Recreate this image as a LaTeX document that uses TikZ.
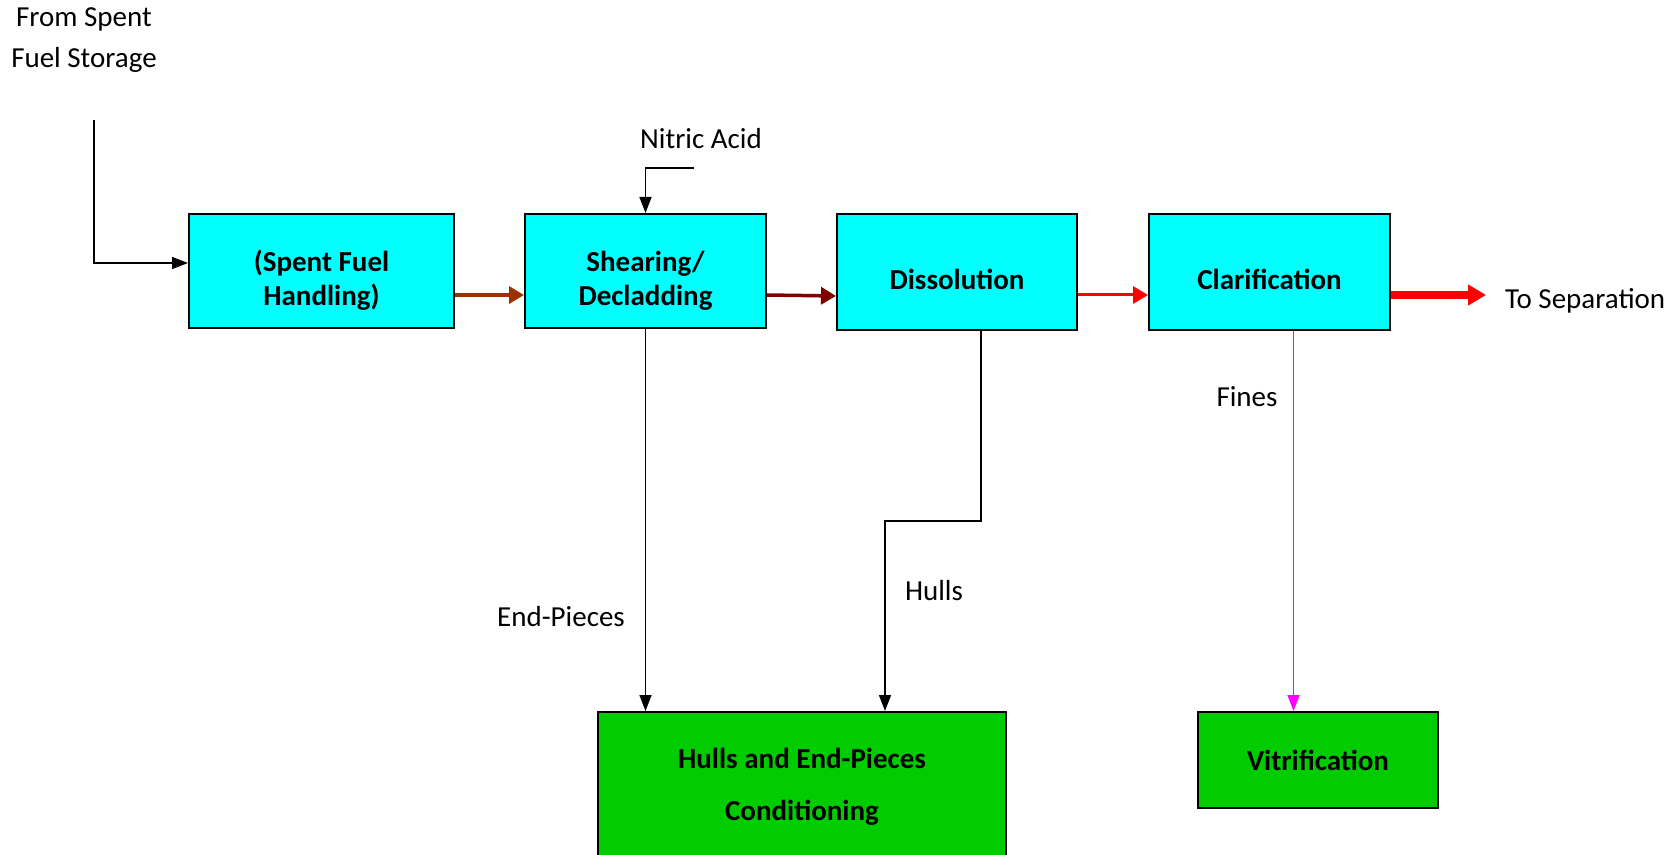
\documentclass[tikz,border=0pt]{standalone}
\usepackage{fontspec}
\setmainfont{Carlito}
\usetikzlibrary{arrows.meta}
\definecolor{boxcyan}{HTML}{00FFFF}
\definecolor{boxgreen}{HTML}{00CC00}
\definecolor{feedbrown}{HTML}{993300}
\definecolor{feeddark}{HTML}{800000}
\definecolor{finemag}{HTML}{FF00FF}
\newcommand{\stagetext}[1]{\raisebox{0pt}[\dimexpr\height+10.5pt\relax][\depth]{\begin{tabular}{@{}c@{}}#1\end{tabular}}}
\tikzset{
  stage/.style={draw=black, line width=1pt, fill=boxcyan, align=center,
    font=\fontsize{14.5}{17}\selectfont\bfseries},
  waste/.style={draw=black, line width=1pt, fill=boxgreen, align=center,
    font=\fontsize{14.5}{26}\selectfont\bfseries},
  lbl/.style={align=center, font=\fontsize{14.5}{20.3}\selectfont},
  flow/.style={line width=0.75pt, -{Triangle[length=8pt,width=6pt]}},
  feed/.style={line width=1.75pt, -{Triangle[length=7.5pt,width=8.5pt]}}
}
\begin{document}
\begin{tikzpicture}[x=0.5pt,y=-0.5pt]
\useasboundingbox (0,0) rectangle (1676,855);
% process boxes
\node[stage, minimum width=132.5pt, minimum height=57pt] (hand) at (321.5,271) {\stagetext{(Spent Fuel\\Handling)}};
\node[stage, minimum width=120.5pt, minimum height=57pt] (shear) at (645.5,271) {\stagetext{Shearing/\\Decladding}};
\node[stage, minimum width=120pt, minimum height=58pt] (diss) at (957,272) {\stagetext{Dissolution}};
\node[stage, minimum width=120.5pt, minimum height=58pt] (clar) at (1269.5,272) {\stagetext{Clarification}};
% waste boxes
\node[waste, minimum width=204pt, minimum height=75pt] (cond) at (802,787) {Hulls and End-Pieces\\Conditioning};
\node[waste, minimum width=120pt, minimum height=48pt] (vitr) at (1318,760) {Vitrification};
% labels
\node[lbl] (fromlbl) at (84,40) {From Spent\\Fuel Storage};
\node[lbl] (acidlbl) at (701,139) {Nitric Acid};
\node[lbl, anchor=west] (seplbl) at (1498,301) {To Separation};
\node[lbl] (endlbl) at (561,617) {End-Pieces};
\node[lbl] (hullbl) at (934,591) {Hulls};
\node[lbl] (finelbl) at (1247,397) {Fines};
% free ends
\coordinate (src) at (94,120);
\coordinate (acid) at (694,168);
\coordinate (hullturn) at (885,521);
\coordinate (sep) at (1486,295);
% main line
\draw[flow] (src) |- ([yshift=4pt]hand.west);
\draw[flow] (acid) -| (shear.north);
\draw[feed, feedbrown] ([yshift=-12pt]hand.east) -- ([yshift=-12pt]shear.west);
\draw[feed, feeddark] ([yshift=-12pt]shear.east) -- ([yshift=-12pt]diss.west);
\draw[feed, red, line width=1.5pt] ([yshift=-11.5pt]diss.east) -- ([yshift=-11.5pt]clar.west);
\draw[red, line width=3.7pt, -{Triangle[length=9pt,width=10pt]}] ([yshift=-11.5pt]clar.east) -- (sep);
% side streams
\draw[flow] (shear.south) -- (shear.south |- cond.north);
\draw[flow] ([xshift=12pt]diss.south) |- (hullturn) -- (hullturn |- cond.north);
\draw[flow, finemag] ([xshift=12pt]clar.south) -- ([xshift=12pt]clar.south |- vitr.north);
\end{tikzpicture}
\end{document}
